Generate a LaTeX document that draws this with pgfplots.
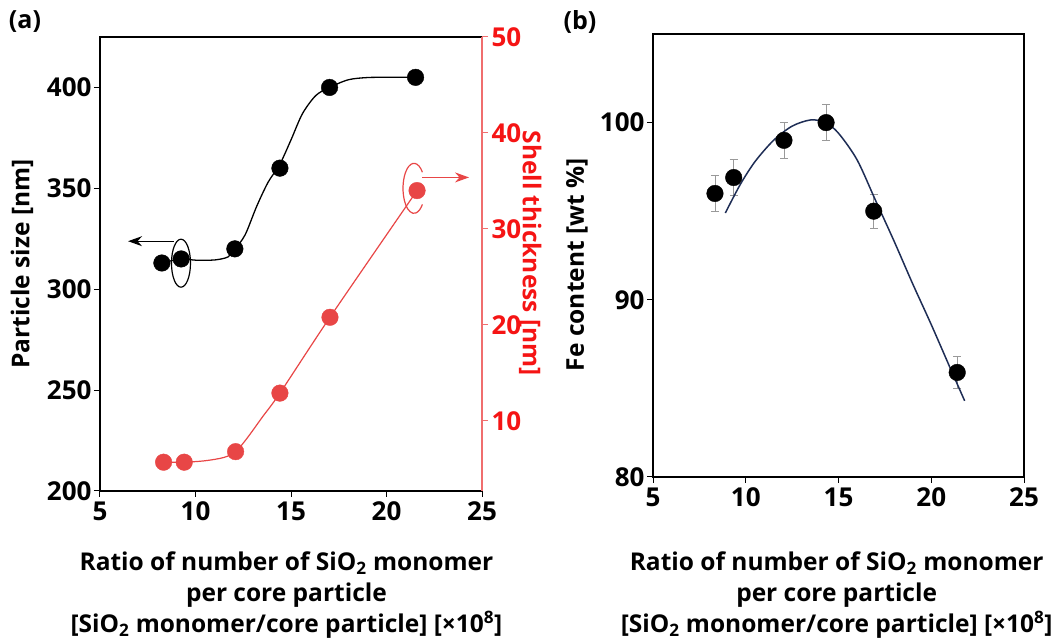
\documentclass[border=0pt]{standalone}
\usepackage{fontspec}
\setmainfont{Open Sans}
\usepackage{pgfplots}
\pgfplotsset{compat=1.18}
\usetikzlibrary{arrows.meta}

\definecolor{redlab}{RGB}{245,20,20}
\definecolor{redaxis}{RGB}{240,110,110}
\definecolor{redmark}{RGB}{232,70,70}
\definecolor{navy}{RGB}{30,45,85}

\pgfplotsset{
  basestyle/.style={
    scale only axis,
    xmin=5, xmax=25,
    xtick={5,10,15,20,25},
    tick align=outside,
    major tick length=6pt,
    xtick pos=bottom, ytick pos=left,
    axis line style={line width=1.4pt},
    every tick/.style={line width=1pt},
    /pgf/number format/assume math mode=true,
    tick label style={font=\fontsize{26}{30}\selectfont\bfseries},
    xticklabel style={yshift=-1pt},
    yticklabel style={xshift=1pt},
    label style={font=\fontsize{24.5}{31}\selectfont\bfseries},
    xlabel style={align=center, anchor=center},
  },
}

\begin{document}
\begin{tikzpicture}

% (a) particle size, left axis
\begin{axis}[basestyle,
  at={(100pt,148pt)}, anchor=south west, width=382pt, height=454pt,
  ymin=200, ymax=425, ytick={200,250,300,350,400},
  ylabel={Particle size [nm]},
  ylabel style={at={(axis description cs:-0.204,0.5)}, anchor=center},
  xlabel={Ratio of number of SiO\textsubscript{2} monomer\\per core particle\\{}[SiO\textsubscript{2} monomer/core particle] [\texttimes10\textsuperscript{8}]},
  xlabel style={at={(axis description cs:0.488,-0.229)}},
]
\addplot[black, line width=1.3pt, smooth, tension=0.5, mark=none] coordinates {
  (8.24,313) (9.25,315) (10,314.4) (11,314.5) (11.7,316) (12.06,319.8)
  (12.6,327) (13.2,341) (13.8,353) (14.42,362) (15,374) (15.6,387)
  (16.3,396) (17.02,400) (18,403.8) (19,404.9) (20,405) (21.52,405)
};
\addplot[only marks, mark=*, mark size=8.3pt, black] coordinates {
  (8.24,313) (9.25,315) (12.06,320) (14.42,360) (17.02,400) (21.52,405)
};
% annotations
\draw[black, line width=1.2pt] (axis cs:9.24,312.9) ellipse [x radius=9.5pt, y radius=24pt];
\draw[black, line width=1.2pt, -{Stealth[length=14pt,width=10pt]}] (axis cs:8.87,323.8) -- (axis cs:6.47,323.8);
\draw[redmark, line width=1.2pt] (axis cs:21.44,350) ++(40:11pt and 25pt)
  arc [start angle=40, end angle=320, x radius=11pt, y radius=25pt];
\draw[redmark, line width=1.2pt, -{Stealth[length=14pt,width=10pt]}] (axis cs:21.86,355.4) -- (axis cs:24.32,355.4);
\end{axis}

% (a) shell thickness, right axis
\begin{axis}[basestyle,
  at={(100pt,148pt)}, anchor=south west, width=382pt, height=454pt,
  ymin=2.7, ymax=50, ytick={10,20,30,40,50},
  axis x line=none, axis y line*=right,
  ytick pos=right,
  y axis line style={redaxis, line width=1.4pt},
  ytick style={redaxis},
  yticklabel style={redlab, xshift=-1pt},
  ylabel={Shell thickness [nm]},
  ylabel style={redlab, rotate=180, at={(axis description cs:1.126,0.524)}, anchor=center},
]
\addplot[redmark, line width=1.2pt, smooth, tension=0.5, mark=none] coordinates {
  (8.33,5.7) (9.41,5.7) (10.5,5.85) (11.5,6.2) (12.1,6.8) (12.7,8.2)
  (13.5,10.4) (14.42,12.9) (17.04,20.8) (21.6,34.0)
};
\addplot[only marks, mark=*, mark size=8.3pt, redmark] coordinates {
  (8.33,5.7) (9.41,5.7) (12.1,6.8) (14.42,12.9) (17.04,20.8) (21.6,34.0)
};
\end{axis}

% (b) Fe content
\begin{axis}[basestyle,
  at={(653pt,162pt)}, anchor=south west, width=371pt, height=443pt,
  ymin=80, ymax=105, ytick={80,90,100},
  ylabel={Fe content [wt \%]},
  ylabel style={at={(axis description cs:-0.205,0.479)}, anchor=center},
  xlabel={Ratio of number of SiO\textsubscript{2} monomer\\per core particle\\{}[SiO\textsubscript{2} monomer/core particle] [\texttimes10\textsuperscript{8}]},
  xlabel style={at={(axis description cs:0.495,-0.266)}},
]
\addplot[draw=none, mark=none,
  error bars/.cd, y dir=both, y explicit,
  error bar style={draw=gray!80, line width=0.9pt},
  error mark options={rotate=90, mark size=4pt, draw=gray!80, line width=0.9pt}]
  coordinates {
  (8.34,96.0) +- (0,1.0)
  (9.35,96.9) +- (0,1.0)
  (12.06,99.0) +- (0,1.0)
  (14.33,100.0) +- (0,1.0)
  (16.9,95.0) +- (0,0.95)
  (21.4,85.9) +- (0,0.9)
};
\addplot[navy, line width=1.5pt, smooth, tension=0.5, mark=none] coordinates {
  (8.9,94.9) (9.7,96.5) (10.5,97.8) (11.5,99.0) (12.5,99.8) (13.5,100.15)
  (14.3,100.0) (15,99.4) (16,97.9) (17,95.6) (18,93.3) (19,90.9)
  (20,88.6) (21,86.2) (21.8,84.3)
};
\addplot[only marks, mark=*, mark size=8.3pt, black] coordinates {
  (8.34,96.0) (9.35,96.9) (12.06,99.0) (14.33,100.0) (16.9,95.0) (21.4,85.9)
};
\end{axis}

\node[font=\fontsize{25}{28}\selectfont\bfseries] at (25pt,617pt) {(a)};
\node[font=\fontsize{25}{28}\selectfont\bfseries] at (580pt,617pt) {(b)};

\pgfresetboundingbox
\useasboundingbox (0pt,0pt) rectangle (1060pt,639pt);
\end{tikzpicture}
\end{document}
